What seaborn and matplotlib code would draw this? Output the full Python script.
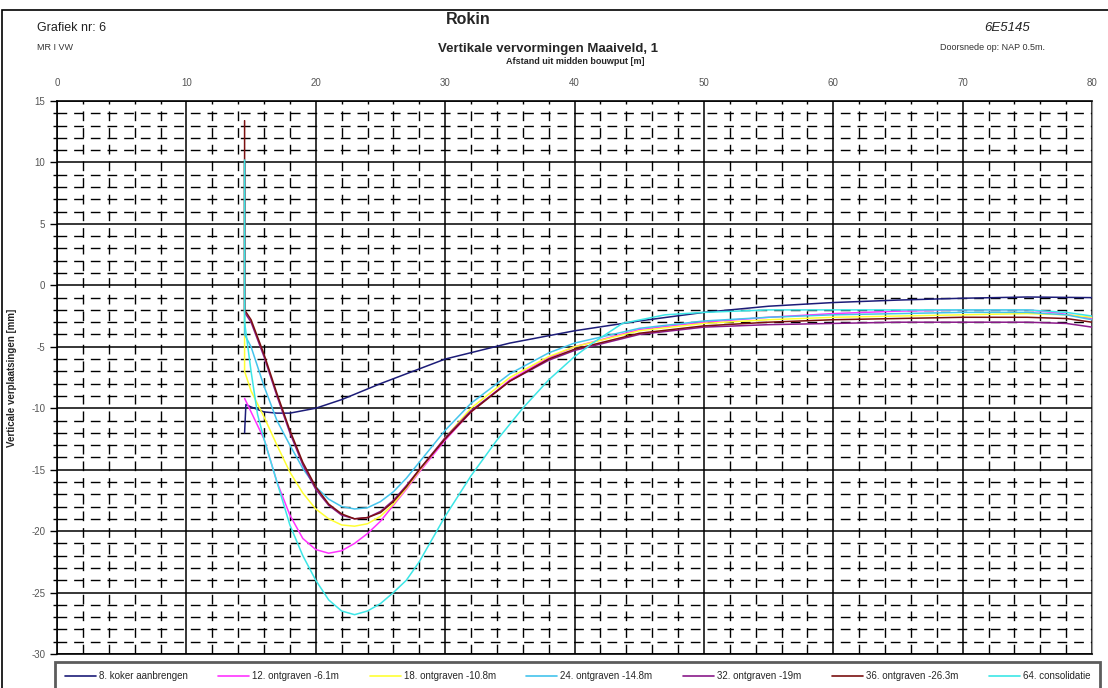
import numpy as np
import pandas as pd
import matplotlib
matplotlib.use("Agg")
import matplotlib.pyplot as plt
import seaborn as sns
from matplotlib.patches import Rectangle

sns.set_style("white")
plt.rcParams['font.family'] = ['Liberation Sans', 'DejaVu Sans']
plt.rcParams['axes.unicode_minus'] = False

# series (x = afstand [m], y = verplaatsing [mm])
labels = ["8. koker aanbrengen", "12. ontgraven -6.1m", "18. ontgraven -10.8m",
          "24. ontgraven -14.8m", "32. ontgraven -19m", "36. ontgraven -26.3m",
          "64. consolidatie"]
colors = ["#1c1c78", "#ff33ff", "#ffff33", "#44c4ec", "#8a1a8a", "#7a1010", "#3ce6e6"]

x_08 = [14.5, 14.6, 15, 16, 17, 18, 20, 22, 25, 28, 30, 35, 40, 45, 50, 55, 60, 65, 70, 75, 80]
y_08 = [-12.0, -9.7, -9.9, -10.3, -10.4, -10.4, -10.0, -9.3, -8.0, -6.8, -6.0, -4.7, -3.7,
        -2.9, -2.2, -1.7, -1.4, -1.2, -1.05, -0.95, -1.0]

x_12 = [14.5, 15, 16, 17, 18, 19, 20, 21, 22, 23, 24, 25, 26, 27, 28, 30, 32, 35, 38,
        40, 45, 50, 55, 60, 65, 70, 75, 77, 80]
y_12 = [-9.2, -10.3, -12.5, -16.0, -18.7, -20.6, -21.5, -21.8, -21.6, -21.0, -20.2,
        -19.2, -17.9, -16.6, -15.2, -12.6, -10.3, -7.7, -5.9, -5.0, -3.6, -3.0, -2.6, -2.3,
        -2.1, -2.0, -2.0, -2.2, -2.7]

x_18 = [14.5, 14.5, 15, 16, 17, 18, 19, 20, 21, 22, 23, 24, 25, 26, 27, 28, 30, 32, 35, 38,
        40, 45, 50, 55, 60, 65, 70, 75, 78, 80]
y_18 = [10.0, -7.0, -8.6, -10.7, -13.0, -15.2, -16.9, -18.2, -19.0, -19.5, -19.6, -19.4,
        -18.8, -17.8, -16.5, -15.1, -12.4, -10.0, -7.5, -5.8, -5.0, -3.7, -3.1, -2.8, -2.6,
        -2.5, -2.4, -2.3, -2.4, -2.6]

x_24 = [14.5, 14.5, 15, 16, 17, 18, 19, 20, 21, 22, 23, 24, 25, 26, 27, 28, 30, 32, 35, 38,
        40, 45, 50, 55, 60, 65, 70, 75, 78, 80]
y_24 = [10.0, -4.0, -5.0, -8.2, -11.0, -13.0, -14.9, -16.4, -17.4, -18.0, -18.2, -18.1,
        -17.6, -16.8, -15.7, -14.4, -11.8, -9.6, -7.2, -5.5, -4.7, -3.5, -2.9, -2.6, -2.4,
        -2.3, -2.2, -2.2, -2.4, -2.8]

x_32 = [14.5, 14.5, 15, 16, 17, 18, 19, 20, 21, 22, 23, 24, 25, 26, 27, 28, 30, 32, 35, 38,
        40, 45, 50, 55, 60, 65, 70, 75, 78, 80]
y_32 = [10.0, -2.2, -3.0, -5.8, -9.0, -12.0, -14.6, -16.6, -17.9, -18.7, -19.0, -18.9,
        -18.4, -17.5, -16.3, -15.0, -12.4, -10.2, -7.8, -6.1, -5.3, -4.0, -3.4, -3.2, -3.1,
        -3.0, -3.0, -3.0, -3.1, -3.4]

x_36 = [14.5, 14.5, 15, 16, 17, 18, 19, 20, 21, 22, 23, 24, 25, 26, 27, 28, 30, 32, 35, 38,
        40, 45, 50, 55, 60, 65, 70, 75, 78, 80]
y_36 = [13.4, -2.0, -2.8, -5.6, -8.8, -11.8, -14.4, -16.4, -17.8, -18.6, -19.0, -18.9,
        -18.5, -17.6, -16.4, -15.0, -12.5, -10.3, -7.8, -6.0, -5.2, -3.9, -3.3, -3.0, -2.8,
        -2.7, -2.6, -2.6, -2.7, -3.0]

x_64 = [14.5, 14.5, 15, 15.5, 16, 17, 18, 19, 20, 21, 22, 23, 24, 25, 26, 27, 28, 30, 32,
        34, 36, 38, 40, 41.4, 43.7, 47, 50, 55, 60, 65, 70, 75, 78, 80]
y_64 = [10.2, -3.0, -7.0, -10.5, -12.5, -16.0, -19.5, -22.0, -24.0, -25.6, -26.5, -26.8,
        -26.5, -25.9, -25.0, -24.0, -22.5, -18.8, -15.5, -12.6, -10.0, -7.7, -5.8, -4.7,
        -3.1, -2.4, -2.2, -2.0, -2.0, -2.0, -2.0, -2.0, -2.2, -2.5]

xs = [x_08, x_12, x_18, x_24, x_32, x_36, x_64]
ys = [y_08, y_12, y_18, y_24, y_32, y_36, y_64]

frames = []
for i, lab in enumerate(labels):
    frames.append(pd.DataFrame({"x": xs[i], "y": ys[i], "fase": lab}))
df = pd.concat(frames, ignore_index=True)

fig = plt.figure(figsize=(11.08, 6.88), dpi=100)
ax = fig.add_axes([57 / 1108, 1 - 654 / 688, (1092 - 57) / 1108, (654 - 101) / 688])

# grid first
ax.set_xlim(0, 80)
ax.set_ylim(-30, 15)
ax.set_xticks(np.arange(0, 81, 10))
ax.set_xticks(np.arange(0, 81, 2), minor=True)
ax.set_yticks(np.arange(-30, 16, 5))
ax.set_yticks(np.arange(-30, 16, 1), minor=True)
ax.grid(which="major", color="black", linewidth=1.1, linestyle="-")
ax.grid(which="minor", color="black", linewidth=1.0, linestyle=(0, (7, 5)))
ax.set_axisbelow(True)

sns.lineplot(data=df, x="x", y="y", hue="fase", hue_order=labels, palette=colors,
             sort=False, estimator=None, units="fase", linewidth=1.1, ax=ax, legend=False)

ax.xaxis.tick_top()
ax.tick_params(axis="x", which="major", top=False, labelsize=7, colors="#555555", pad=6)
ax.tick_params(axis="x", which="minor", top=False)
ax.tick_params(axis="y", which="major", left=True, length=5, width=1, labelsize=7,
               labelcolor="#555555", color="black")
ax.tick_params(axis="y", which="minor", left=True, length=3, width=1, color="black")
ax.set_xlabel("")
ax.set_ylabel("Verticale verplaatsingen [mm]", fontsize=7, fontweight="bold")
ax.yaxis.set_label_coords(-40 / 1035, 0.5)
for s in ["left", "top", "bottom"]:
    ax.spines[s].set_color("black")
    ax.spines[s].set_linewidth(1.2)
ax.spines["right"].set_color("#999999")

# legend below the plot
handles = [plt.Line2D([0], [0], color=c, linewidth=1.2) for c in colors]
leg = fig.legend(handles, labels, loc="lower left", bbox_to_anchor=(50 / 1108, -8 / 688, 1055 / 1108, 30 / 688),
                 mode="expand", ncol=7, fontsize=7, frameon=True, fancybox=False,
                 handlelength=3.2, handletextpad=0.3, borderpad=1.0, columnspacing=1.2)
leg.get_frame().set_edgecolor("#333333")
leg.get_frame().set_linewidth(2)

# header texts
fig.text(37 / 1108, 1 - 28 / 688, "Grafiek nr: 6", fontsize=9, va="center", color="#222222")
fig.text(37 / 1108, 1 - 47 / 688, "MR I VW", fontsize=6.5, va="center", color="#333333")
fig.text(468 / 1108, 1 - 20 / 688, "Rokin", fontsize=11.5, fontweight="bold", ha="center", va="center")
fig.text(548 / 1108, 1 - 49 / 688, "Vertikale vervormingen Maaiveld, 1", fontsize=9.5,
         fontweight="bold", ha="center", va="center")
fig.text(575 / 1108, 1 - 62 / 688, "Afstand uit midden bouwput [m]", fontsize=6.5,
         fontweight="bold", ha="center", va="center")
fig.text(1030 / 1108, 1 - 28 / 688, "6E5145", fontsize=9.5, style="italic", ha="right",
         va="center", color="#222222")
fig.text(1045 / 1108, 1 - 47 / 688, "Doorsnede op: NAP 0.5m.", fontsize=6.5, ha="right",
         va="center", color="#333333")

# page frame
fig.patches.append(Rectangle((2 / 1108, -0.05), 1.2, 1 - 10 / 688 + 0.05, transform=fig.transFigure,
                             fill=False, edgecolor="black", linewidth=1.2))

fig.savefig("out.png", dpi=100, facecolor="white")
